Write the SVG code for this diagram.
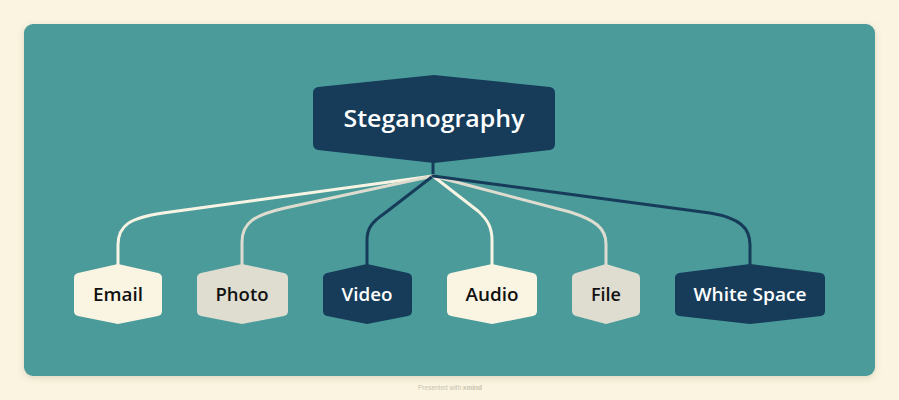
<svg xmlns="http://www.w3.org/2000/svg" width="899" height="400" viewBox="0 0 899 400">
<defs>
<filter id="sh" x="-5%" y="-5%" width="110%" height="115%">
<feDropShadow dx="0" dy="2" stdDeviation="3" flood-color="#8a7a50" flood-opacity="0.25"/>
</filter>
</defs>
<style>
.t{font-family:"Open Sans","Inter","Liberation Sans",sans-serif;font-weight:600;text-anchor:middle;dominant-baseline:central}
.root{font-size:23px;fill:#ffffff}
.lt{font-size:17.5px;fill:#111111}
.dk{font-size:17.5px;fill:#ffffff}
.cream{fill:#FAF5E3}
.grey{fill:#DFDDD0}
.navy{fill:#163C5A}
.c{fill:none;stroke-width:3;stroke-linejoin:round;stroke-linecap:round}
</style>
<rect width="899" height="400" fill="#FAF4E1"/>
<rect x="24" y="24" width="851" height="352" rx="9" fill="#4C9B9B" filter="url(#sh)"/>
<g id="connectors">
<path class="c" d="M433,162 L433,176" stroke="#163C5A"/>
<path class="c" d="M433,176 L163,213 C130,218 118,225 118,245 L118,266" stroke="#F8F4E3"/>
<path class="c" d="M433,176 L285,208 C255,215 242,222 242,242 L242,266" stroke="#DEDCCF"/>
<path class="c" d="M433,176 L385,213 C372,222 367,228 367,240 L367,266" stroke="#163C5A"/>
<path class="c" d="M433,176 L478,211 C488,220 492,228 492,240 L492,266" stroke="#F8F4E3"/>
<path class="c" d="M433,176 L570,212 C595,220 606,228 606,244 L606,266" stroke="#DEDCCF"/>
<path class="c" d="M433,176 L710,213 C740,218 750,228 750,245 L750,266" stroke="#163C5A"/>
</g>
<g id="root">
<path class="navy" d="M434,75 L550,87 Q555,88 555,93 L555,144 Q555,149 550,150 L434,163 L318,150 Q313,149 313,144 L313,93 Q313,88 318,87 Z"/>
<text class="t root" x="434" y="118" textLength="181" lengthAdjust="spacingAndGlyphs">Steganography</text>
</g>
<g id="email">
<path class="cream" d="M118,264 L158,273 Q162,274 162,278 L162,311 Q162,315 158,316 L118,324 L78,316 Q74,315 74,311 L74,278 Q74,274 78,273 Z"/>
<text class="t lt" x="118" y="294" textLength="50" lengthAdjust="spacingAndGlyphs">Email</text>
</g>
<g id="photo">
<path class="grey" d="M242,264 L284,273 Q288,274 288,278 L288,311 Q288,315 284,316 L242,324 L201,316 Q197,315 197,311 L197,278 Q197,274 201,273 Z"/>
<text class="t lt" x="242" y="294" textLength="53" lengthAdjust="spacingAndGlyphs">Photo</text>
</g>
<g id="video">
<path class="navy" d="M367,264 L408,273 Q412,274 412,278 L412,311 Q412,315 408,316 L367,324 L327,316 Q323,315 323,311 L323,278 Q323,274 327,273 Z"/>
<text class="t dk" x="367" y="294" textLength="51" lengthAdjust="spacingAndGlyphs">Video</text>
</g>
<g id="audio">
<path class="cream" d="M492,264 L533,273 Q537,274 537,278 L537,311 Q537,315 533,316 L492,324 L451,316 Q447,315 447,311 L447,278 Q447,274 451,273 Z"/>
<text class="t lt" x="492" y="294" textLength="53" lengthAdjust="spacingAndGlyphs">Audio</text>
</g>
<g id="file">
<path class="grey" d="M606,264 L636,273 Q640,274 640,278 L640,311 Q640,315 636,316 L606,324 L576,316 Q572,315 572,311 L572,278 Q572,274 576,273 Z"/>
<text class="t lt" x="606" y="294" textLength="30" lengthAdjust="spacingAndGlyphs">File</text>
</g>
<g id="whitespace">
<path class="navy" d="M750,264 L821,273 Q825,274 825,278 L825,311 Q825,315 821,316 L750,324 L679,316 Q675,315 675,311 L675,278 Q675,274 679,273 Z"/>
<text class="t dk" x="750" y="294" textLength="113" lengthAdjust="spacingAndGlyphs">White Space</text>
</g>
<text x="450" y="390" font-family="Liberation Sans, sans-serif" font-size="6.5" fill="#C8C3B0" text-anchor="middle">Presented with <tspan font-weight="bold">xmind</tspan></text>
</svg>
